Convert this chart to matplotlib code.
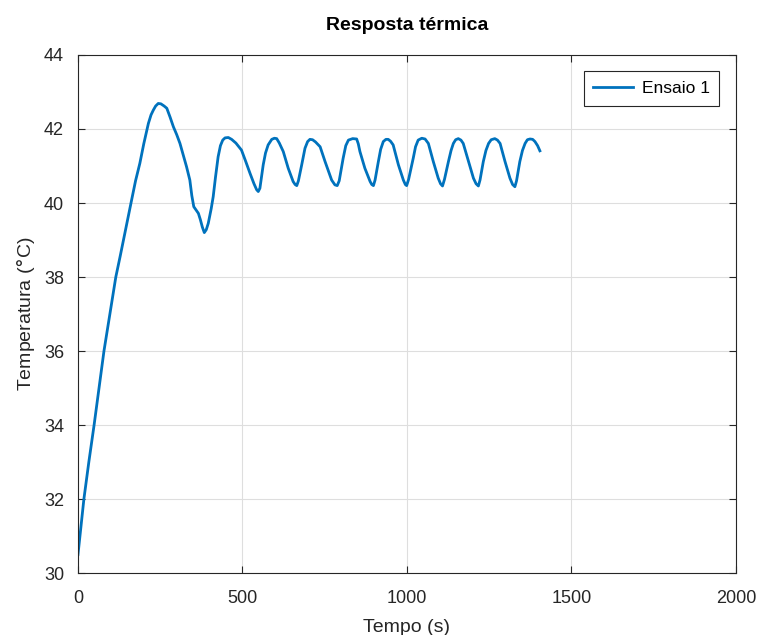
import numpy as np
import matplotlib.pyplot as plt

plt.rcParams['font.family'] = ['Liberation Sans', 'DejaVu Sans']

# data (time in s, temperature in degC)
tempo = [0, 9, 18, 33, 49, 64, 79, 97, 115, 128, 145, 163, 175, 188, 200, 214,
         222, 229, 236, 244, 252, 262, 270, 280, 290, 300, 310, 320, 330, 340,
         346, 352, 360, 366, 372, 378, 384, 390, 396, 405, 411, 418, 426, 433,
         440, 447, 457, 467, 480, 497, 510, 523, 535, 543, 548, 553, 563, 570,
         578, 589, 597, 604, 612, 624, 639, 654, 660, 665, 670, 680, 690, 698,
         705, 713, 722, 736, 751, 771, 781, 788, 794, 806, 814, 822, 835, 847,
         852, 857, 872, 888, 893, 898, 903, 913, 920, 928, 936, 943, 950, 958,
         974, 989, 995, 999, 1005, 1019, 1026, 1034, 1045, 1055, 1065, 1080,
         1095, 1102, 1108, 1114, 1126, 1134, 1141, 1148, 1156, 1164, 1171, 1187,
         1202, 1210, 1217, 1222, 1232, 1240, 1248, 1256, 1267, 1275, 1283, 1298,
         1313, 1321, 1328, 1333, 1343, 1351, 1359, 1366, 1374, 1382, 1389, 1397,
         1404]
temperatura = [30.5, 31.25, 32.0, 33.0, 34.0, 35.0, 36.0, 37.0, 38.0, 38.55,
               39.3, 40.08, 40.6, 41.07, 41.6, 42.15, 42.38, 42.51, 42.62,
               42.69, 42.68, 42.62, 42.56, 42.32, 42.06, 41.85, 41.61, 41.3,
               40.98, 40.62, 40.2, 39.9, 39.8, 39.72, 39.55, 39.35, 39.2, 39.28,
               39.45, 39.85, 40.17, 40.7, 41.25, 41.55, 41.7, 41.76, 41.77,
               41.72, 41.62, 41.43, 41.12, 40.8, 40.52, 40.36, 40.31, 40.4,
               41.03, 41.35, 41.57, 41.72, 41.75, 41.74, 41.62, 41.39, 40.94,
               40.58, 40.5, 40.47, 40.6, 41.03, 41.48, 41.66, 41.72, 41.71,
               41.65, 41.52, 41.12, 40.62, 40.49, 40.47, 40.6, 41.21, 41.55,
               41.7, 41.74, 41.73, 41.6, 41.39, 40.94, 40.58, 40.5, 40.47,
               40.62, 41.12, 41.45, 41.66, 41.72, 41.72, 41.67, 41.57, 41.03,
               40.62, 40.5, 40.47, 40.64, 41.21, 41.52, 41.7, 41.75, 41.73,
               41.61, 41.12, 40.67, 40.52, 40.46, 40.64, 41.12, 41.42, 41.61,
               41.71, 41.74, 41.7, 41.61, 41.12, 40.67, 40.52, 40.46, 40.62,
               41.12, 41.42, 41.61, 41.71, 41.74, 41.7, 41.61, 41.12, 40.67,
               40.5, 40.44, 40.6, 41.12, 41.42, 41.61, 41.71, 41.73, 41.72,
               41.66, 41.55, 41.41]

fig = plt.figure(figsize=(7.6, 6.35), dpi=100)
ax = fig.add_axes([0.1026, 0.0976, 0.8658, 0.8158])

ax.plot(tempo, temperatura, color='#0072BD', lw=2.0, label='Ensaio 1')

ax.set_xlim(0, 2000)
ax.set_ylim(30, 44)
ax.set_xticks(np.arange(0, 2001, 500))
ax.set_yticks(np.arange(30, 45, 2))
ax.grid(True, color='#dedede', lw=0.8)
ax.tick_params(direction='in', top=True, right=True, labelsize=13,
               color='#262626', labelcolor='#262626', length=5)
ax.tick_params(axis='x', pad=12)
ax.tick_params(axis='y', pad=10)
for s in ax.spines.values():
    s.set_color('#262626')
    s.set_linewidth(0.8)

ax.set_xlabel('Tempo (s)', fontsize=14, labelpad=9, color='#262626')
ax.set_ylabel('Temperatura ($\\degree$C)', fontsize=14, labelpad=5,
              color='#262626')
ax.set_title('Resposta térmica', fontsize=14, fontweight='bold', pad=18)

leg = ax.legend(loc='upper right', fontsize=12.5, fancybox=False,
                framealpha=1, edgecolor='#262626', borderaxespad=0.95,
                handlelength=2.3, handletextpad=0.5, borderpad=0.55)
leg.get_frame().set_linewidth(0.8)

fig.savefig('out.png', dpi=100)
